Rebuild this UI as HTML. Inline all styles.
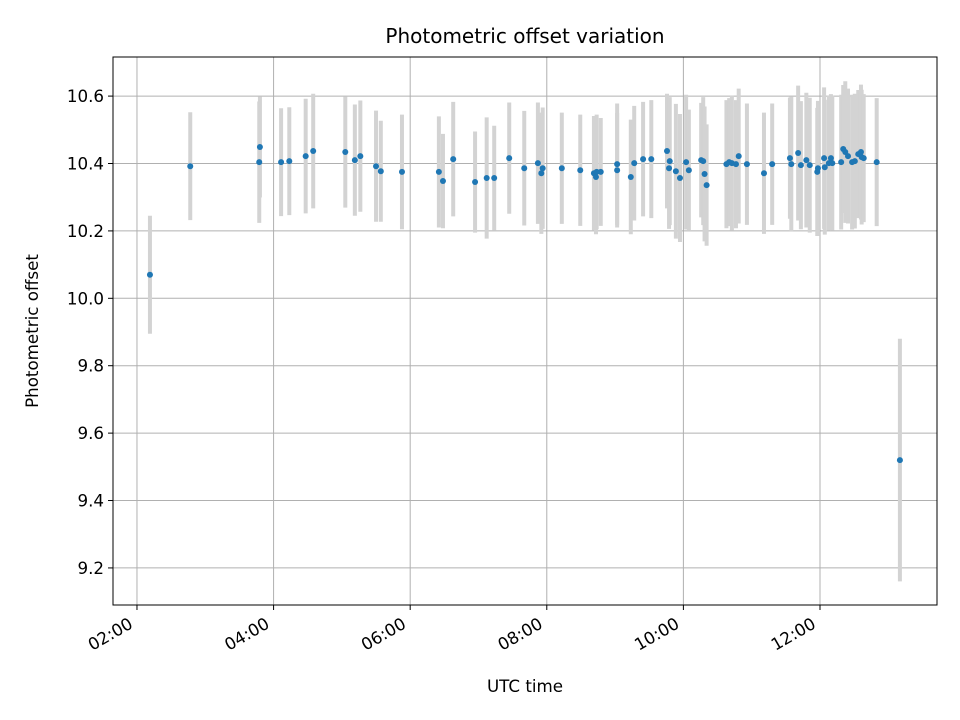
<!DOCTYPE html>
<html><head><meta charset="utf-8"><style>
body{margin:0;background:#fff;}
svg{display:block;font-family:"DejaVu Sans","Liberation Sans",sans-serif;}
</style></head><body>
<svg id="chart" width="960" height="720" xmlns="http://www.w3.org/2000/svg">
<rect width="960" height="720" fill="#fff"/>
<text x="525" y="43" style="font-size:20px" text-anchor="middle">Photometric offset variation</text>
<text x="525" y="692" style="font-size:16.7px" text-anchor="middle">UTC time</text>
<text x="38" y="331" style="font-size:16.7px" text-anchor="middle" transform="rotate(-90 38 331)">Photometric offset</text>
<g id="grid"></g>
<g id="errs"></g>
<g id="pts"></g>
<rect x="113" y="57" width="824" height="548" fill="none" stroke="#000" stroke-width="1"/>
<g id="ticks"></g>
</svg>
<script>
const hours=[2.19,2.78,3.79,3.80,4.11,4.23,4.47,4.58,5.05,5.19,5.27,5.50,5.57,5.88,6.42,6.48,6.63,6.95,7.12,7.23,7.45,7.67,7.87,7.92,7.94,8.22,8.49,8.69,8.72,8.73,8.79,9.03,9.03,9.23,9.28,9.41,9.53,9.76,9.79,9.80,9.89,9.95,10.04,10.08,10.26,10.29,10.31,10.34,10.63,10.67,10.71,10.77,10.81,10.93,11.18,11.30,11.56,11.58,11.68,11.72,11.80,11.85,11.96,11.97,12.06,12.07,12.13,12.16,12.18,12.31,12.34,12.37,12.41,12.47,12.51,12.56,12.60,12.61,12.64,12.83,13.17];
const offsets=[10.07,10.392,10.404,10.449,10.404,10.407,10.422,10.437,10.434,10.41,10.422,10.392,10.377,10.375,10.375,10.348,10.413,10.345,10.357,10.357,10.416,10.386,10.401,10.371,10.386,10.386,10.38,10.371,10.36,10.375,10.375,10.398,10.38,10.36,10.401,10.413,10.413,10.437,10.386,10.407,10.377,10.357,10.404,10.38,10.41,10.407,10.369,10.336,10.398,10.404,10.401,10.398,10.422,10.398,10.371,10.398,10.416,10.398,10.431,10.395,10.41,10.395,10.375,10.386,10.416,10.389,10.401,10.416,10.401,10.404,10.443,10.434,10.422,10.404,10.407,10.428,10.434,10.419,10.416,10.404,9.52];
const errors=[0.175,0.16,0.18,0.15,0.16,0.16,0.17,0.17,0.165,0.165,0.165,0.165,0.15,0.17,0.165,0.14,0.17,0.15,0.18,0.155,0.165,0.17,0.18,0.18,0.18,0.165,0.165,0.17,0.17,0.17,0.16,0.18,0.17,0.17,0.17,0.17,0.175,0.17,0.18,0.19,0.2,0.19,0.2,0.18,0.17,0.19,0.2,0.18,0.19,0.19,0.2,0.19,0.2,0.18,0.18,0.18,0.18,0.2,0.2,0.19,0.2,0.2,0.19,0.2,0.21,0.2,0.2,0.19,0.2,0.2,0.19,0.21,0.2,0.2,0.2,0.19,0.2,0.2,0.19,0.19,0.36];
const xTicks=[2,4,6,8,10,12];
const xTickLabels=["02:00","04:00","06:00","08:00","10:00","12:00"];
const yTicks=[9.2,9.4,9.6,9.8,10.0,10.2,10.4,10.6];
const yTickLabels=["9.2","9.4","9.6","9.8","10.0","10.2","10.4","10.6"];
const X0=113,X1=937,Y0=605,Y1=57;
const xmin=1.649,xmax=13.713,ymin=9.090,ymax=10.716;
const xs=h=>X0+(h-xmin)/(xmax-xmin)*(X1-X0);
const ys=v=>Y0-(v-ymin)/(ymax-ymin)*(Y0-Y1);
const NS="http://www.w3.org/2000/svg";
function mk(tag,attrs,parent){const e=document.createElementNS(NS,tag);for(const k in attrs)e.setAttribute(k,attrs[k]);parent.appendChild(e);return e;}
const grid=document.getElementById('grid'),ticks=document.getElementById('ticks'),errs=document.getElementById('errs'),pts=document.getElementById('pts');
xTicks.forEach((t,i)=>{const x=xs(t);
 const g=mk('line',{x1:x,x2:x,y1:Y1,y2:Y0,stroke:'#b0b0b0','stroke-width':1},grid);
 
 
 const tk=mk('line',{x1:x,x2:x,y1:Y0,y2:Y0+5,stroke:'#000','stroke-width':1},ticks);
 
 
 const tx=mk('text',{x:x-3,y:Y0+22,style:'font-size:16.7px','text-anchor':'end',transform:`rotate(-30 ${x-3} ${Y0+22})`},ticks);
 tx.textContent=xTickLabels[i];
 
 
});
yTicks.forEach((t,i)=>{const y=ys(t);
 const g=mk('line',{x1:X0,x2:X1,y1:y,y2:y,stroke:'#b0b0b0','stroke-width':1},grid);
 
 
 const tk=mk('line',{x1:X0-5,x2:X0,y1:y,y2:y,stroke:'#000','stroke-width':1},ticks);
 
 
 const tx=mk('text',{x:X0-9,y:y+6,style:'font-size:16.7px','text-anchor':'end'},ticks);
 tx.textContent=yTickLabels[i];
 
 
});
hours.forEach((h,i)=>{const x=xs(h);
 const e=mk('line',{x1:x,x2:x,y1:ys(offsets[i]+errors[i]),y2:ys(offsets[i]-errors[i]),stroke:'#d3d3d3','stroke-width':4},errs);
 
 
});
hours.forEach((h,i)=>{
 const c=mk('circle',{cx:xs(h),cy:ys(offsets[i]),r:3,fill:'#1f77b4'},pts);
 
 
});
</script>
</body></html>
